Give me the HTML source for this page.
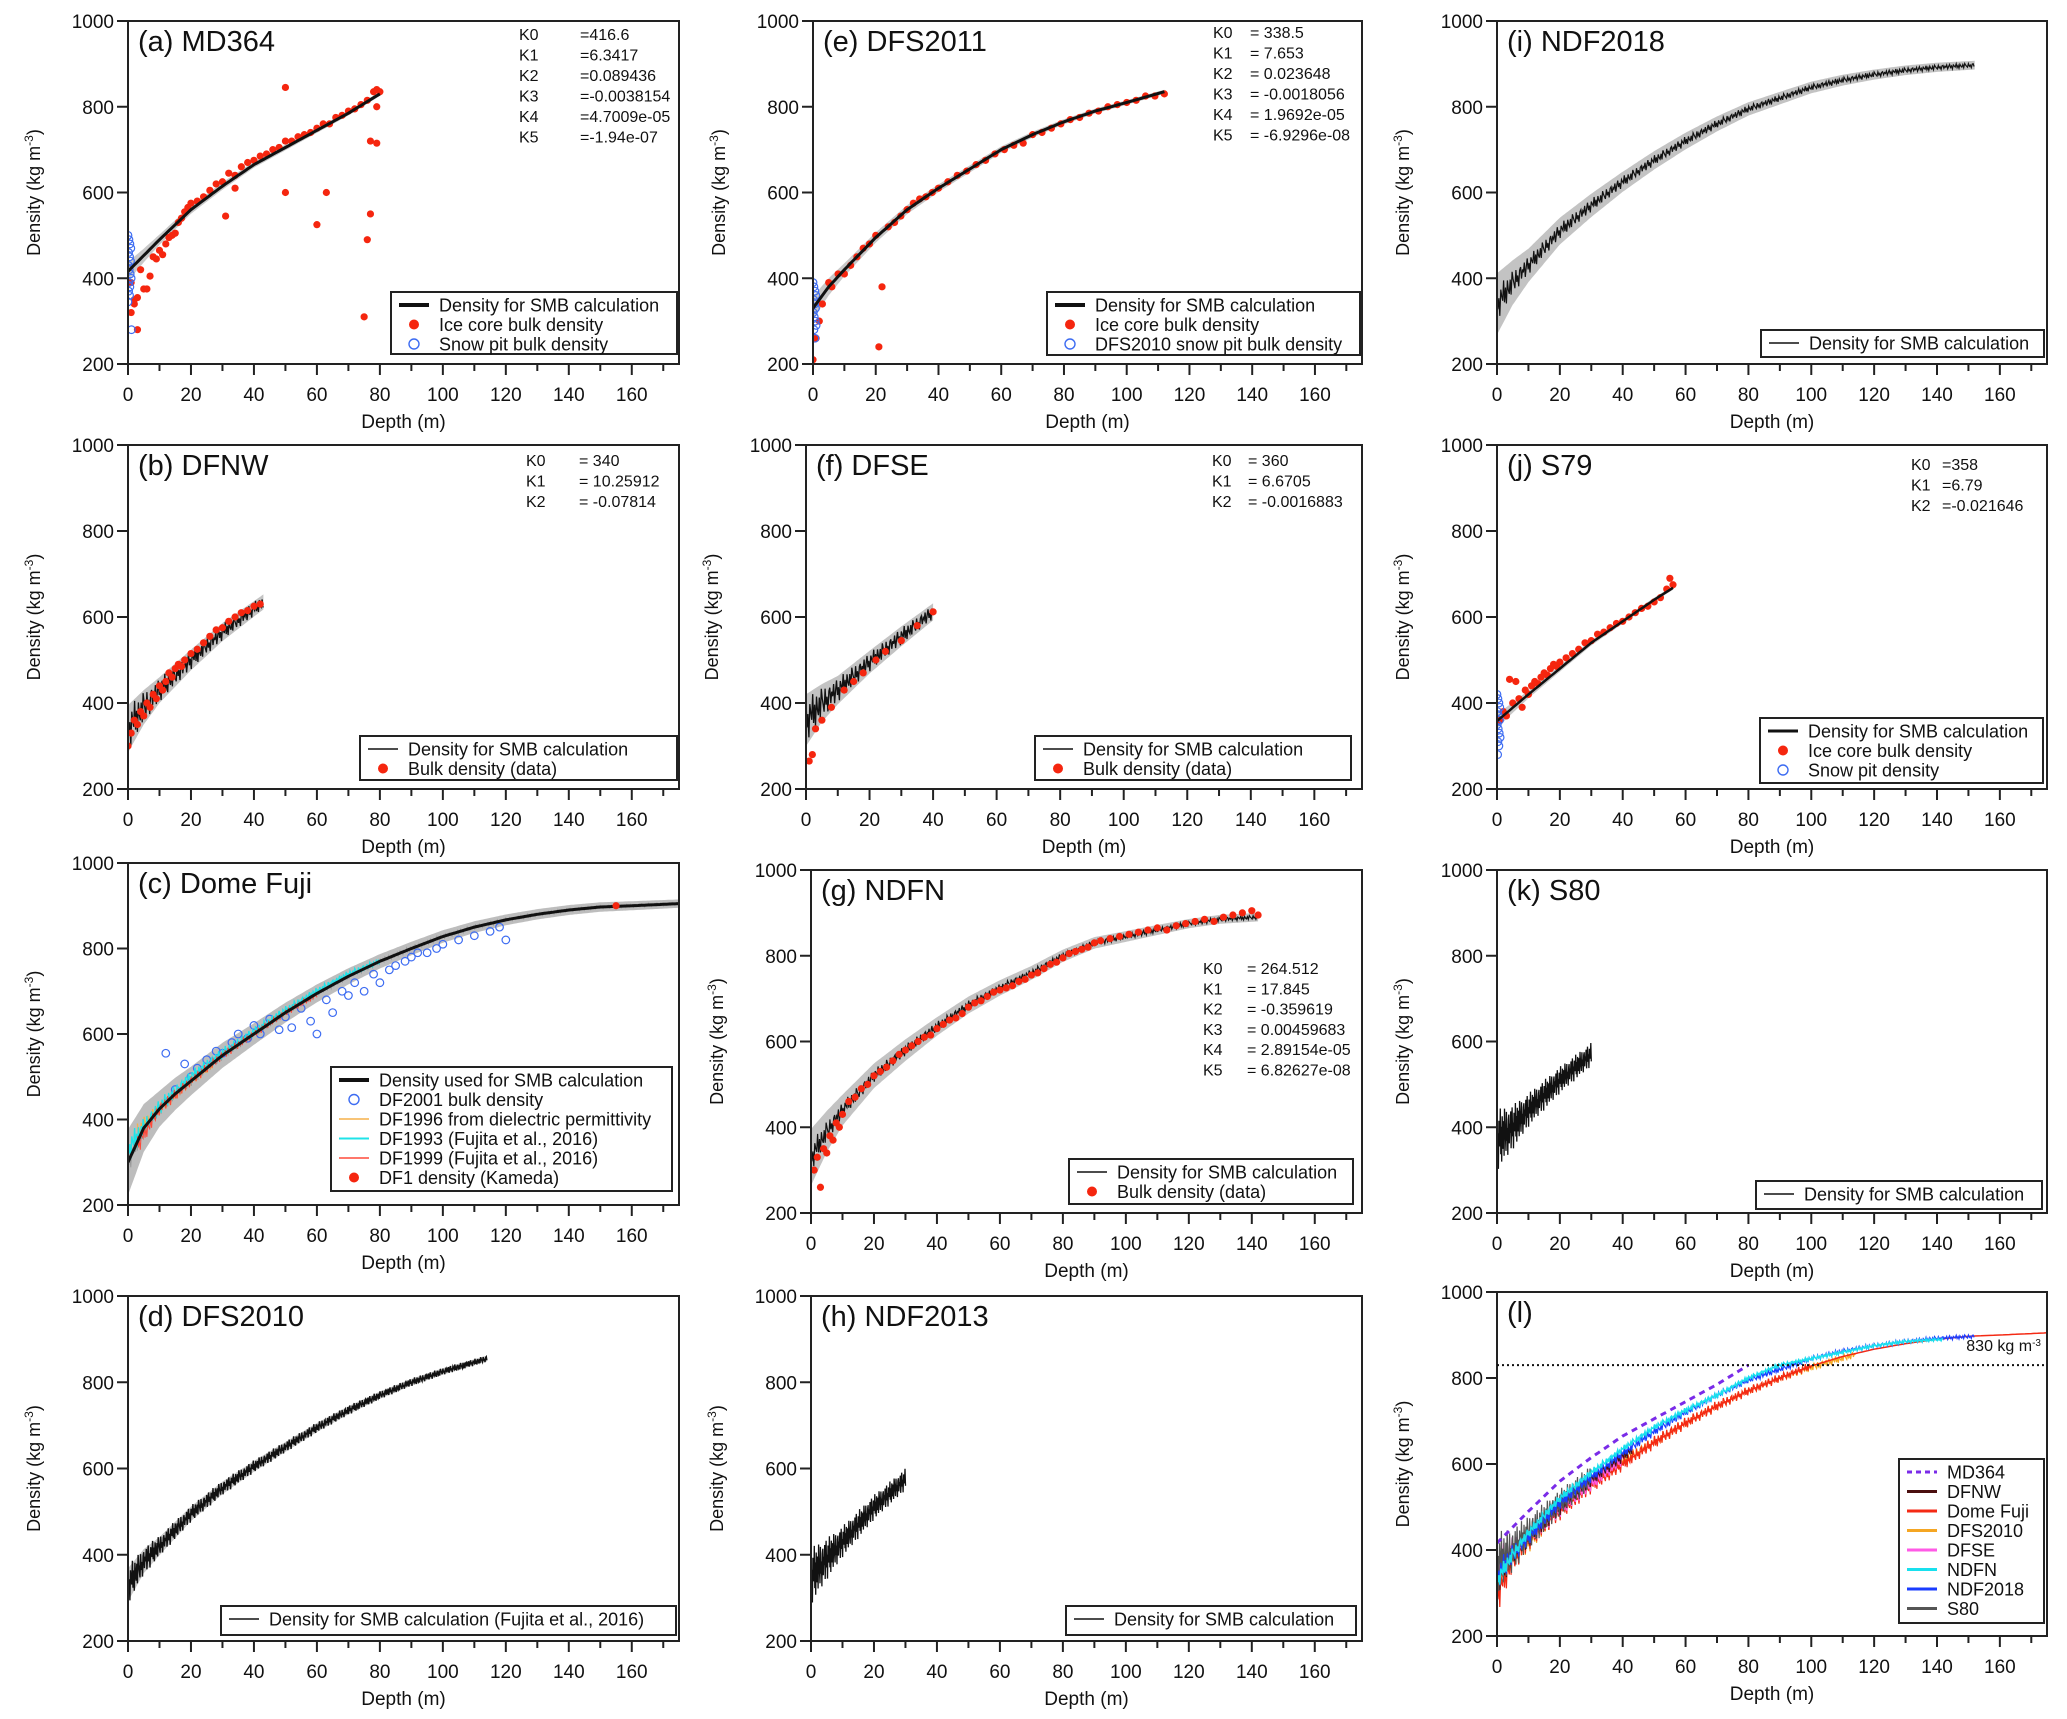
<!DOCTYPE html>
<html><head><meta charset="utf-8"><title>Density profiles</title>
<style>
html,body{margin:0;padding:0;background:#fff;}
svg{display:block;font-family:"Liberation Sans",Arial,sans-serif;}
</style></head>
<body>
<svg id="fig" xmlns="http://www.w3.org/2000/svg" width="2067" height="1719" viewBox="0 0 2067 1719"></svg>
<script>
// ---------- data ----------
const xTicks=[0,20,40,60,80,100,120,140,160];
const yTicks=[200,400,600,800,1000];
const mdD=[0,10,20,30,40,50,60,70,80];
const mdV=[416,490,560,615,665,705,745,785,830];
const dfnwD=[0,5,10,20,30,43];
const dfnwV=[340,390,430,500,565,635];
const dfD=[0,5,10,15,20,30,40,50,60,70,80,90,100,110,120,130,140,150,160,175];
const dfV=[300,380,425,460,490,550,600,650,695,735,770,800,828,850,867,880,890,897,900,905];
const dfs10D=[0,5,10,20,30,40,50,60,70,80,90,100,114];
const dfs10V=[330,385,420,495,555,605,650,695,735,770,800,825,855];
const dfs11D=[0,5,10,20,30,40,50,60,70,80,90,100,112];
const dfs11V=[330,380,420,495,560,610,655,700,735,765,790,810,835];
const dfseD=[0,5,10,20,30,40];
const dfseV=[360,400,430,495,555,612];
const ndfnD=[0,5,10,20,30,40,50,60,70,80,90,100,110,120,130,142];
const ndfnV=[330,390,440,520,580,635,685,725,760,800,830,845,860,875,885,890];
const ndf13D=[0,5,10,20,30];
const ndf13V=[350,390,430,510,575];
const ndf18D=[0,5,10,20,30,40,50,60,70,80,90,100,110,120,130,140,152];
const ndf18V=[340,390,430,510,570,625,675,720,760,795,820,845,862,875,885,892,897];
const s79D=[0,10,20,30,40,50,56];
const s79V=[358,420,480,540,590,640,668];
const s80D=[0,5,10,20,30];
const s80V=[370,400,440,510,570];
const nzD=[0,5,10,20,40,80,120,175];
const nzV=[55,40,30,24,18,12,9,7];
const aRedD=[1,2,3,4,5,6,7,8,9,10,11,12,13,14,15,16,17,18,19,20,22,24,26,28,30,32,34,36,38,40,42,44,46,48,50,52,54,56,58,60,62,64,66,68,70,72,74,76,78,79,80,3,1,2,31,34,50,50,60,63,75,76,77,77,79,79];
const aRedV=[390,350,355,420,375,375,405,450,445,465,455,480,495,500,505,530,540,555,565,575,580,590,605,620,625,645,640,660,670,675,685,690,700,705,720,720,730,735,740,750,760,760,775,780,790,795,805,815,835,840,835,280,320,340,545,610,845,600,525,600,310,490,720,550,715,800];
const aBlueD=[0,0.3,0.6,0.9,0.2,0.5,0.8,0.1,0.4,0.7,1.0,0.3,0.6,0.2,0.5,0.0,1.1];
const aBlueV=[500,490,480,470,460,450,440,430,420,410,400,390,380,370,360,345,280];
const eRedD=[0,1,2,3,5,6,8,10,12,14,16,18,20,21,22,24,26,28,30,32,34,36,38,40,43,46,49,52,55,58,61,64,67,70,73,76,79,82,85,88,91,94,97,100,103,106,109,112];
const eRedV=[210,260,300,340,390,380,410,410,430,450,470,480,500,240,380,520,530,545,560,575,585,590,600,610,625,640,650,665,675,690,700,710,715,735,740,750,760,770,775,785,790,800,805,810,815,825,825,830];
const eBlueD=[0,0.3,0.6,0.9,0.2,0.5,0.8,0.1,0.4,0.7,1.0,0.3,0.6];
const eBlueV=[390,380,370,360,350,340,330,320,310,300,290,280,260];
const bRedD=[0,1,2,3,4,5,6,7,8,9,10,11,12,13,14,15,16,17,18,20,22,24,26,28,30,32,34,36,38,40,42];
const bRedV=[300,330,360,350,380,370,400,390,420,410,440,430,450,470,460,480,490,485,500,515,525,540,555,570,575,590,600,610,615,625,630];
const fRedD=[1,2,3,5,8,12,15,18,22,25,30,35,40];
const fRedV=[265,280,340,360,390,430,450,470,500,520,545,580,612];
const jRedD=[1,2,3,4,5,6,7,8,9,10,11,12,13,14,15,16,17,18,19,20,22,24,26,28,30,32,34,36,38,40,42,44,46,48,50,52,54,55,56];
const jRedV=[360,380,370,455,400,450,410,390,430,420,440,450,445,460,470,465,480,490,485,495,505,515,525,540,545,560,565,575,585,590,600,610,620,625,635,645,665,690,675];
const jBlueD=[0,0.3,0.6,0.9,0.2,0.5,0.8,0.1,0.4,0.7,1.0,0.3,0.6,0.2];
const jBlueV=[420,410,400,390,380,370,360,350,340,330,320,310,300,280];
const gRedD=[1,2,3,4,5,6,7,8,9,10,12,14,16,18,20,22,24,26,28,30,32,34,36,38,40,42,44,46,48,50,52,54,56,58,60,62,64,66,68,70,72,74,76,78,80,82,84,86,88,90,92,95,98,101,104,107,110,113,116,119,122,125,128,131,134,137,140,142];
const gRedV=[300,330,260,350,340,380,370,410,400,430,460,470,490,500,520,530,540,555,570,580,590,600,610,615,630,640,650,655,665,680,690,695,705,715,720,725,730,740,745,755,760,770,780,785,795,805,810,815,820,830,835,840,845,850,855,860,865,860,870,875,880,885,880,890,895,900,905,895];
const cBlueD=[12,15,18,20,22,25,28,30,33,35,38,40,42,45,48,50,52,55,58,60,63,65,68,70,72,75,78,80,83,85,88,90,92,95,98,100,105,110,115,118,120];
const cBlueV=[555,470,530,500,520,540,560,555,580,600,590,620,600,635,610,640,615,660,630,600,680,650,700,690,720,700,740,720,750,760,770,780,790,790,800,810,820,830,840,850,820];
const cRedD=[155];
const cRedV=[900];
const kA=[["K0","=416.6"],["K1","=6.3417"],["K2","=0.089436"],["K3","=-0.0038154"],["K4","=4.7009e-05"],["K5","=-1.94e-07"]];
const kE=[["K0","= 338.5"],["K1","= 7.653"],["K2","= 0.023648"],["K3","= -0.0018056"],["K4","= 1.9692e-05"],["K5","= -6.9296e-08"]];
const kB=[["K0","= 340"],["K1","= 10.25912"],["K2","= -0.07814"]];
const kF=[["K0","= 360"],["K1","= 6.6705"],["K2","= -0.0016883"]];
const kJ=[["K0","=358"],["K1","=6.79"],["K2","=-0.021646"]];
const kG=[["K0","= 264.512"],["K1","= 17.845"],["K2","= -0.359619"],["K3","= 0.00459683"],["K4","= 2.89154e-05"],["K5","= 6.82627e-08"]];

// ---------- drawing helpers ----------
const NS='http://www.w3.org/2000/svg';
const svg=document.getElementById('fig');
const JIT=[0.9,-0.4,0.2,-1,0.6,0.1,-0.3,1,-0.6,0.35,-0.9,0.7,-0.1,-0.5,0.5,-0.8,0.95,0.3,-0.2,-0.7,0.8,-0.35,0.15,-0.95,0.45,0.65,-0.55,0.25,-0.15,0.75,-0.85,0.05];
function interp(xs,ys,x){
  if(x<=xs[0])return ys[0];
  for(let i=1;i<xs.length;i++){if(x<=xs[i]){const t=(x-xs[i-1])/(xs[i]-xs[i-1]);return ys[i-1]+t*(ys[i]-ys[i-1]);}}
  return ys[ys.length-1];
}
function el(tag,parent,attrs){const e=document.createElementNS(NS,tag);for(const k in attrs)e.setAttribute(k,attrs[k]);parent.appendChild(e);return e;}
function txt(parent,x,y,s,size,anchor,extra){const t=el('text',parent,Object.assign({x:x,y:y,'font-size':size,'text-anchor':anchor||'start',fill:'#111'},extra||{}));t.textContent=s;return t;}

function makePanel(id,L,T,W,H,title){
  const g=el('g',svg,{});
  
  
  const p={g:g,L:L,T:T,W:W,H:H,sx:d=>L+d/175*W,sy:v=>T+(1000-v)/800*H};
  const clip=el('clipPath',g,{id:'clip-'+id});
  el('rect',clip,{x:L,y:T,width:W,height:H});
  p.plot=el('g',g,{'clip-path':'url(#clip-'+id+')'});
  
  
  const box=el('rect',g,{x:L,y:T,width:W,height:H,fill:'none',stroke:'#222','stroke-width':2});
  
  
  const ax=el('g',g,{stroke:'#222','stroke-width':2});
  
  
  for(let d=0;d<=170;d+=10){const x=p.sx(d);el('line',ax,{x1:x,x2:x,y1:T+H,y2:T+H+(d%20===0?11:7)});}
  xTicks.forEach(d=>{const t=txt(g,p.sx(d),T+H+37,String(d),19,'middle');
    
    });
  yTicks.forEach(v=>{const y=p.sy(v);el('line',ax,{x1:L-11,x2:L,y1:y,y2:y});
    const t=txt(g,L-14,y+7,String(v),19,'end');
    
    });
  const xt=txt(g,L+W/2,T+H+64,'Depth (m)',19,'middle');
  
  
  const yx=L-88,yy=T+H/2;
  const yt=txt(g,yx,yy,'Density (kg m',18,'middle',{transform:'rotate(-90 '+yx+' '+yy+')'});
  const sup=document.createElementNS(NS,'tspan');sup.setAttribute('baseline-shift','super');sup.setAttribute('font-size','12');sup.textContent='-3';yt.appendChild(sup);
  const cl=document.createElementNS(NS,'tspan');cl.textContent=')';yt.appendChild(cl);
  
  
  const tt=txt(g,L+10,T+30,title,29,'start');
  
  
  return p;
}
function band(p,D,V,hw,fill,name){
  const d0=D[0],d1=D[D.length-1];let up=[],lo=[];
  for(let d=d0;d<=d1+1e-9;d+=0.5){const v=interp(D,V,d);const w=hw*interp(nzD,nzV,d)/20;up.push(p.sx(d).toFixed(1)+','+p.sy(v+w).toFixed(1));lo.unshift(p.sx(d).toFixed(1)+','+p.sy(v-w).toFixed(1));}
  const e=el('polygon',p.plot,{points:up.concat(lo).join(' '),fill:fill,stroke:'none'});
  
  
}
function noisy(p,D,V,amp,color,sw,name,step){
  const pts=[];let k=0;const d1=D[D.length-1];
  for(let d=D[0];d<=d1+1e-9;d+=(step||0.3)){const v=interp(D,V,d)+amp*interp(nzD,nzV,d)*JIT[k%JIT.length];pts.push(p.sx(d).toFixed(1)+','+p.sy(v).toFixed(1));k++;}
  const e=el('polyline',p.plot,{points:pts.join(' '),fill:'none',stroke:color,'stroke-width':sw});
  
  
  return e;
}
function smooth(p,D,V,color,sw,name,dash){
  const pts=[];for(let d=D[0];d<=D[D.length-1]+1e-9;d+=1){pts.push(p.sx(d).toFixed(1)+','+p.sy(interp(D,V,d)).toFixed(1));}
  const a={points:pts.join(' '),fill:'none',stroke:color,'stroke-width':sw};if(dash)a['stroke-dasharray']=dash;
  const e=el('polyline',p.plot,a);
  
  
}
function dots(p,D,V,name,open){
  const g=el('g',p.plot,{});
  
  
  D.forEach((d,i)=>{
    const c=el('circle',g,open?{cx:p.sx(d),cy:p.sy(V[i]),r:3.8,fill:'none',stroke:'#3d6cf2','stroke-width':1.2}:{cx:p.sx(d),cy:p.sy(V[i]),r:3.6,fill:'#f5260f'});
    
    
  });
}
function ktext(p,rows,x1,x2,y0,dy,size){
  const g=el('g',p.g,{});
  
  
  rows.forEach((r,i)=>{txt(g,x1,y0+i*dy,r[0],size||16);txt(g,x2,y0+i*dy,r[1],size||16);});
}
function legend(p,x,y,w,h,items){
  const g=el('g',p.g,{});
  
  
  el('rect',g,{x:x,y:y,width:w,height:h,fill:'#fff',stroke:'#222','stroke-width':2});
  items.forEach((it,i)=>{
    const cy=y+13+i*19.5, sx=x+8;
    const row=el('g',g,{});
    
    
    if(it.t==='line'){const a={x1:sx,x2:sx+30,y1:cy,y2:cy,stroke:it.c,'stroke-width':it.w||3};if(it.dash)a['stroke-dasharray']=it.dash;el('line',row,a);}
    else if(it.t==='dot'){el('circle',row,{cx:sx+15,cy:cy,r:5,fill:'#f5260f'});}
    else {el('circle',row,{cx:sx+15,cy:cy,r:5,fill:'none',stroke:'#3d6cf2','stroke-width':1.4});}
    txt(row,sx+40,cy+6.5,it.s,18);
  });
}

// ---------- panels ----------
let p=makePanel('a',128,21,551,343,'(a) MD364');
band(p,mdD,mdV,8,'#c8c8c8','uncertainty-band');
dots(p,aRedD,aRedV,'ice-core-bulk-density');
dots(p,aBlueD,aBlueV,'snow-pit-bulk-density',true);
smooth(p,mdD,mdV,'#111',3,'smb-density-line');
ktext(p,kA,519,580,40,20.5);
legend(p,391,292,286,62,[{t:'line',c:'#111',w:4,s:'Density for SMB calculation'},{t:'dot',s:'Ice core bulk density'},{t:'open',s:'Snow pit bulk density'}]);

p=makePanel('e',813,21,549,343,'(e) DFS2011');
band(p,dfs11D,dfs11V,10,'#c8c8c8','uncertainty-band');
dots(p,eRedD,eRedV,'ice-core-bulk-density');
dots(p,eBlueD,eBlueV,'snow-pit-bulk-density',true);
smooth(p,dfs11D,dfs11V,'#111',3,'smb-density-line');
ktext(p,kE,1213,1250,38,20.5);
legend(p,1047,292,313,63,[{t:'line',c:'#111',w:4,s:'Density for SMB calculation'},{t:'dot',s:'Ice core bulk density'},{t:'open',s:'DFS2010 snow pit bulk density'}]);

p=makePanel('i',1497,21,550,343,'(i) NDF2018');
band(p,ndf18D,ndf18V,26,'#c3c3c3','uncertainty-band');
noisy(p,ndf18D,ndf18V,0.7,'#111',1.2,'smb-density-line');
legend(p,1761,330,283,27,[{t:'line',c:'#111',w:1.5,s:'Density for SMB calculation'}]);

p=makePanel('b',128,445,551,344,'(b) DFNW');
band(p,dfnwD,dfnwV,20,'#c3c3c3','uncertainty-band');
noisy(p,dfnwD,dfnwV,0.9,'#111',1.3,'smb-density-line');
dots(p,bRedD,bRedV,'bulk-density-data');
ktext(p,kB,526,579,466,20.5);
legend(p,360,736,317,44,[{t:'line',c:'#111',w:1.5,s:'Density for SMB calculation'},{t:'dot',s:'Bulk density (data)'}]);

p=makePanel('f',806,445,556,344,'(f) DFSE');
band(p,dfseD,dfseV,22,'#c3c3c3','uncertainty-band');
noisy(p,dfseD,dfseV,0.9,'#111',1.3,'smb-density-line');
dots(p,fRedD,fRedV,'bulk-density-data');
ktext(p,kF,1212,1248,466,20.5);
legend(p,1035,736,316,44,[{t:'line',c:'#111',w:1.5,s:'Density for SMB calculation'},{t:'dot',s:'Bulk density (data)'}]);

p=makePanel('j',1497,445,550,344,'(j) S79');
band(p,s79D,s79V,6,'#c8c8c8','uncertainty-band');
dots(p,jRedD,jRedV,'ice-core-bulk-density');
dots(p,jBlueD,jBlueV,'snow-pit-density',true);
smooth(p,s79D,s79V,'#111',2.5,'smb-density-line');
ktext(p,kJ,1911,1942,470,20.5);
legend(p,1760,718,283,65,[{t:'line',c:'#111',w:3,s:'Density for SMB calculation'},{t:'dot',s:'Ice core bulk density'},{t:'open',s:'Snow pit density'}]);

p=makePanel('c',128,863,551,342,'(c) Dome Fuji');
band(p,dfD,dfV,28,'#bdbdbd','uncertainty-band');
noisy(p,dfD,dfV,0.5,'#9a9a9a',1,'measured-profile');
dots(p,cBlueD,cBlueV,'df2001-bulk-density',true);
noisy(p,[3,10,20,27],[370,425,490,530],0.5,'#f5b14a',1.3,'df1996-permittivity');
noisy(p,[0,10,20,30,40,50,60,70,80],[330,430,500,555,605,655,700,740,770],0.6,'#1fe3e8',1.3,'df1993-profile');
noisy(p,[3,10,20,30,40,50,60],[340,425,490,550,600,650,692],0.5,'#ff4a3a',1,'df1999-profile');
smooth(p,dfD,dfV,'#111',3,'smb-density-line');
dots(p,cRedD,cRedV,'df1-kameda-density');
legend(p,331,1067,341,124,[{t:'line',c:'#111',w:4,s:'Density used for SMB calculation'},{t:'open',s:'DF2001 bulk density'},{t:'line',c:'#f5b14a',w:1.5,s:'DF1996 from dielectric permittivity'},{t:'line',c:'#1fe3e8',w:2,s:'DF1993 (Fujita et al., 2016)'},{t:'line',c:'#ff4a3a',w:1.5,s:'DF1999 (Fujita et al., 2016)'},{t:'dot',s:'DF1 density (Kameda)'}]);

p=makePanel('g',811,870,551,343,'(g) NDFN');
band(p,ndfnD,ndfnV,24,'#c3c3c3','uncertainty-band');
noisy(p,ndfnD,ndfnV,0.6,'#111',1.2,'smb-density-line');
dots(p,gRedD,gRedV,'bulk-density-data');
ktext(p,kG,1203,1247,974,20.3);
legend(p,1069,1159,284,45,[{t:'line',c:'#111',w:1.5,s:'Density for SMB calculation'},{t:'dot',s:'Bulk density (data)'}]);

p=makePanel('k',1497,870,550,343,'(k) S80');
noisy(p,s80D,s80V,1.3,'#111',1.3,'smb-density-line',0.15);
legend(p,1756,1181,286,28,[{t:'line',c:'#111',w:1.5,s:'Density for SMB calculation'}]);

p=makePanel('d',128,1296,551,345,'(d) DFS2010');
band(p,dfs10D,dfs10V,14,'#c8c8c8','uncertainty-band');
noisy(p,dfs10D,dfs10V,0.8,'#111',1.4,'smb-density-line',0.2);
legend(p,221,1606,455,29,[{t:'line',c:'#111',w:1.5,s:'Density for SMB calculation (Fujita et al., 2016)'}]);

p=makePanel('h',811,1296,551,345,'(h) NDF2013');
noisy(p,ndf13D,ndf13V,1.2,'#111',1.3,'smb-density-line',0.15);
legend(p,1066,1606,290,29,[{t:'line',c:'#111',w:1.5,s:'Density for SMB calculation'}]);

p=makePanel('l',1497,1292,550,344,'(l)');
noisy(p,dfs10D,dfs10V,0.9,'#f5a623',1.2,'dfs2010-line');
noisy(p,dfD.slice(0,13),dfV.slice(0,13),0.9,'#f42a14',1.2,'dome-fuji-line');
smooth(p,dfD,dfV,'#f42a14',1.5,'dome-fuji-fit');
noisy(p,dfseD,dfseV,0.8,'#ff5ae6',1.3,'dfse-line');
noisy(p,dfnwD,dfnwV,0.8,'#4a0f0f',1.2,'dfnw-line');
noisy(p,s80D,s80V,1.3,'#555',1.2,'s80-line',0.2);
noisy(p,ndf18D,ndf18V,0.6,'#1a3cff',1.2,'ndf2018-line');
noisy(p,ndfnD,ndfnV,0.4,'#18e0ee',1.5,'ndfn-line');
smooth(p,mdD,mdV,'#7a2be8',3,'md364-line','6,5');
const ref=el('line',p.g,{x1:p.sx(0),x2:p.sx(175),y1:p.sy(830),y2:p.sy(830),stroke:'#111','stroke-width':2,'stroke-dasharray':'2,3'});


const rl=txt(p.g,p.L+p.W-6,p.sy(830)-14,'830 kg m',16,'end');
const rs=document.createElementNS(NS,'tspan');rs.setAttribute('baseline-shift','super');rs.setAttribute('font-size','10');rs.textContent='-3';rl.appendChild(rs);


legend(p,1899,1459,145,164,[{t:'line',c:'#7a2be8',w:3,dash:'5,4',s:'MD364'},{t:'line',c:'#4a0f0f',s:'DFNW'},{t:'line',c:'#f42a14',s:'Dome Fuji'},{t:'line',c:'#f5a623',s:'DFS2010'},{t:'line',c:'#ff5ae6',s:'DFSE'},{t:'line',c:'#18e0ee',s:'NDFN'},{t:'line',c:'#1a3cff',s:'NDF2018'},{t:'line',c:'#555',s:'S80'}]);
</script>
</body></html>
